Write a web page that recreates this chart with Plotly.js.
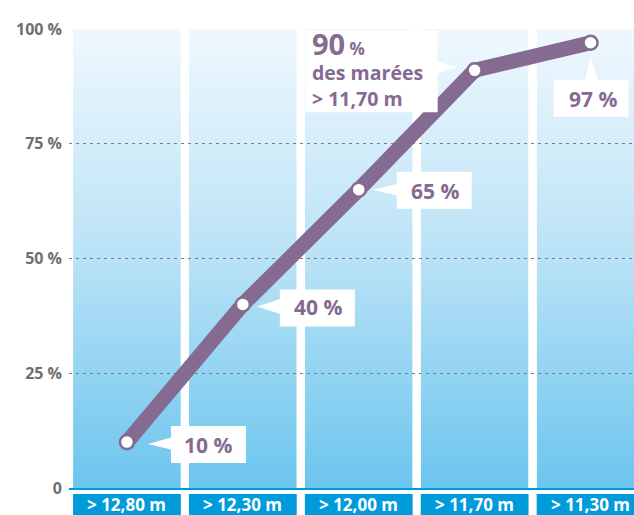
<!DOCTYPE html>
<html>
<head>
<meta charset="utf-8">
<script src="https://cdn.plot.ly/plotly-3.0.1.min.js"></script>
<style>html,body{margin:0;padding:0;background:#fff}#chart{width:634px;height:515px}</style>
</head>
<body>
<div id="chart"></div>
<script>
// ---- data ----
const categories = ['> 12,80 m', '> 12,30 m', '> 12,00 m', '> 11,70 m', '> 11,30 m'];
const shares = [10, 40, 65, 91, 97];
const yTickVals = [0, 25, 50, 75, 100];
const yTickText = ['0', '25 %', '50 %', '75 %', '100 %'];
const calloutTexts = [
  '10 %',
  '40 %',
  '65 %',
  "<span style='font-size:29px'>90</span><span style='font-size:17px'> %</span><br>des marées<br>> 11,70 m",
  '97 %'
];

// ---- styles / positions ----
const FONT = 'Open Sans, Lato, sans-serif';
const PURPLE = '#856a91';
const BLUE = '#009bdb';
const colHalf = 0.465;
const plotH = 515 - 29 - 27;
// box: [left, right, top, bottom] in px relative to the point (y up); text offset ax/ay (y down)
const calloutStyle = [
  {box: [44, 119, 16, -21], ax: 81, ay: 3, size: 21, wedge: [[21, -2], [46, 5], [46, -8]]},
  {box: [37, 112, 15, -22], ax: 75, ay: 3, size: 21, wedge: [[14, -2], [39, 6], [39, -10]]},
  {box: [38, 113, 18, -19], ax: 76, ay: 1, size: 21, wedge: [[14, 0], [39, 6], [39, -6]]},
  {box: [-169, -37, 40, -42], ax: -107, ay: -2, size: 19.5, wedge: [[-17, 3], [-39, 9], [-39, -4]], align: 'left'},
  {box: [-37, 38, -37, -74], ax: 2, ay: 56, size: 21, wedge: [[0, -14], [-6, -39], [8, -39]]}
];

const xs = categories.map((c, i) => i);

const gradSvg = "<svg xmlns='http://www.w3.org/2000/svg' width='10' height='100' viewBox='0 0 10 100' preserveAspectRatio='none'>" +
  "<defs><linearGradient id='g' x1='0' y1='0' x2='0' y2='1'>" +
  "<stop offset='0' stop-color='#f0f8fe'/><stop offset='0.5' stop-color='#b9e2f6'/><stop offset='1' stop-color='#6cc5ee'/>" +
  "</linearGradient></defs><rect x='0' y='0' width='10' height='100' fill='url(#g)'/></svg>";
const gradUri = 'data:image/svg+xml;charset=utf-8,' + encodeURIComponent(gradSvg);

const images = xs.map(i => ({
  source: gradUri, xref: 'x', yref: 'y',
  x: i - colHalf, y: yTickVals[yTickVals.length - 1],
  sizex: 2 * colHalf, sizey: yTickVals[yTickVals.length - 1] - yTickVals[0],
  xanchor: 'left', yanchor: 'top', sizing: 'stretch', layer: 'below'
}));

const shapes = [];
xs.forEach(i => {
  const s = calloutStyle[i];
  shapes.push({
    type: 'rect', xref: 'x', yref: 'paper',
    x0: i - colHalf, x1: i + colHalf, y0: -6 / plotH, y1: -27 / plotH,
    fillcolor: BLUE, line: {width: 0}, layer: 'above'
  });
  shapes.push({
    type: 'rect', xref: 'x', yref: 'y', xsizemode: 'pixel', ysizemode: 'pixel',
    xanchor: i, yanchor: shares[i],
    x0: s.box[0], x1: s.box[1], y0: s.box[2], y1: s.box[3],
    fillcolor: '#ffffff', line: {width: 0}, layer: 'above'
  });
  shapes.push({
    type: 'path', xref: 'x', yref: 'y', xsizemode: 'pixel', ysizemode: 'pixel',
    xanchor: i, yanchor: shares[i],
    path: 'M ' + s.wedge.map(p => p[0] + ' ' + p[1]).join(' L ') + ' Z',
    fillcolor: '#ffffff', line: {width: 0}, layer: 'above'
  });
});

const annotations = [];
xs.forEach(i => {
  const s = calloutStyle[i];
  annotations.push({
    x: i, y: shares[i], xref: 'x', yref: 'y',
    text: calloutTexts[i],
    showarrow: true, arrowcolor: 'rgba(0,0,0,0)', arrowwidth: 0.1,
    ax: s.ax, ay: s.ay, align: s.align || 'center',
    font: {family: FONT, size: s.size, color: PURPLE, weight: 700}
  });
  annotations.push({
    x: i, y: -16.5 / plotH, xref: 'x', yref: 'paper',
    text: categories[i], showarrow: false, yanchor: 'middle',
    font: {family: FONT, size: 17, color: '#ffffff', weight: 700}
  });
});

const trace = {
  x: xs, y: shares, type: 'scatter', mode: 'lines+markers',
  line: {color: PURPLE, width: 15},
  marker: {size: 14, color: '#ffffff', line: {color: PURPLE, width: 2.5}},
  hoverinfo: 'skip'
};

const layout = {
  width: 634, height: 515,
  margin: {l: 69, r: 0, t: 29, b: 27, pad: 0},
  paper_bgcolor: '#ffffff', plot_bgcolor: '#ffffff',
  showlegend: false,
  xaxis: {
    range: [-0.5, 4.375], showticklabels: false, showgrid: false, zeroline: false,
    showline: true, linecolor: BLUE, linewidth: 2, fixedrange: true
  },
  yaxis: {
    range: [0, 100], tickvals: yTickVals, ticktext: yTickText,
    showgrid: true, gridcolor: '#7c7c7c', gridwidth: 1, griddash: '3px,4px',
    zeroline: false, showline: false, ticks: '', ticklabelstandoff: 6,
    tickfont: {family: FONT, size: 16, color: '#6f6f6f', weight: 700}, fixedrange: true
  },
  images: images,
  shapes: shapes,
  annotations: annotations
};

Plotly.newPlot('chart', [trace], layout, {displayModeBar: false, staticPlot: true});
</script>
</body>
</html>
